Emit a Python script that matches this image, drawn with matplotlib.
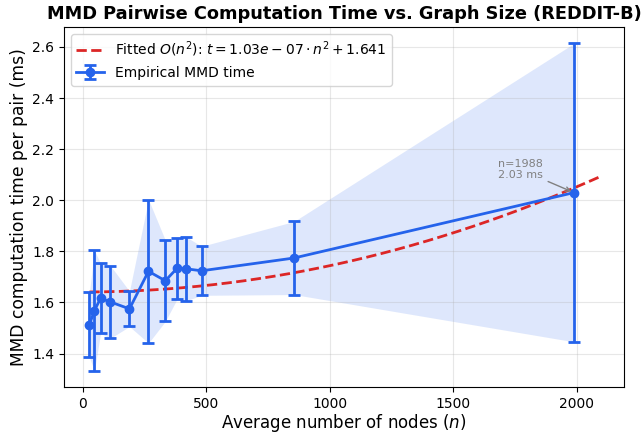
import matplotlib.pyplot as plt
import numpy as np

# average number of nodes per size bin, mean and std of MMD time per pair (ms)
n_nodes = [27, 47, 72, 112, 189, 266, 334, 381, 416, 481, 855, 1988]
mmd_mean = [1.513, 1.568, 1.616, 1.602, 1.575, 1.722, 1.685, 1.733, 1.732, 1.724, 1.774, 2.030]
mmd_std = [0.127, 0.236, 0.137, 0.142, 0.069, 0.281, 0.159, 0.121, 0.126, 0.096, 0.143, 0.584]

# quadratic fit t = a * n^2 + b
fit_a = 1.03e-07
fit_b = 1.641

blue = "#2563eb"
red = "#dc2626"

n_arr = np.array(n_nodes)
mean_arr = np.array(mmd_mean)
std_arr = np.array(mmd_std)

fig, ax = plt.subplots(1, 1, figsize=(6.41, 4.33), dpi=100)

ax.fill_between(n_arr, mean_arr - std_arr, mean_arr + std_arr, color=blue, alpha=0.15, linewidth=0)

n_fit = np.linspace(n_arr.min(), n_arr.max() * 1.05, 200)
ax.plot(n_fit, fit_a * n_fit ** 2 + fit_b, '--', color=red, linewidth=2,
        label=r'Fitted $O(n^2)$: $t=1.03e-07 \cdot n^2 + 1.641$')

ax.errorbar(n_arr, mean_arr, yerr=std_arr, fmt='-o', color=blue, linewidth=2,
            markersize=6, elinewidth=2, capsize=4, capthick=2, label='Empirical MMD time')

ax.annotate(f'n={n_nodes[-1]}\n{mmd_mean[-1]:.2f} ms', xy=(n_nodes[-1], mmd_mean[-1]),
            xytext=(1680, 2.12), fontsize=8, color='gray', ha='left', va='center',
            arrowprops=dict(arrowstyle='->', color='gray', lw=1))

ax.set_xlabel(r'Average number of nodes ($n$)', fontsize=12, labelpad=1)
ax.set_ylabel('MMD computation time per pair (ms)', fontsize=12.3, labelpad=3)
ax.set_title('MMD Pairwise Computation Time vs. Graph Size (REDDIT-B)', fontsize=12.8, fontweight='bold')
ax.grid(True, alpha=0.3)
ax.legend(loc='upper left', fontsize=10)

plt.subplots_adjust(left=0.0998, right=0.9735, bottom=0.1055, top=0.9376)
plt.savefig('out.png', dpi=100)
